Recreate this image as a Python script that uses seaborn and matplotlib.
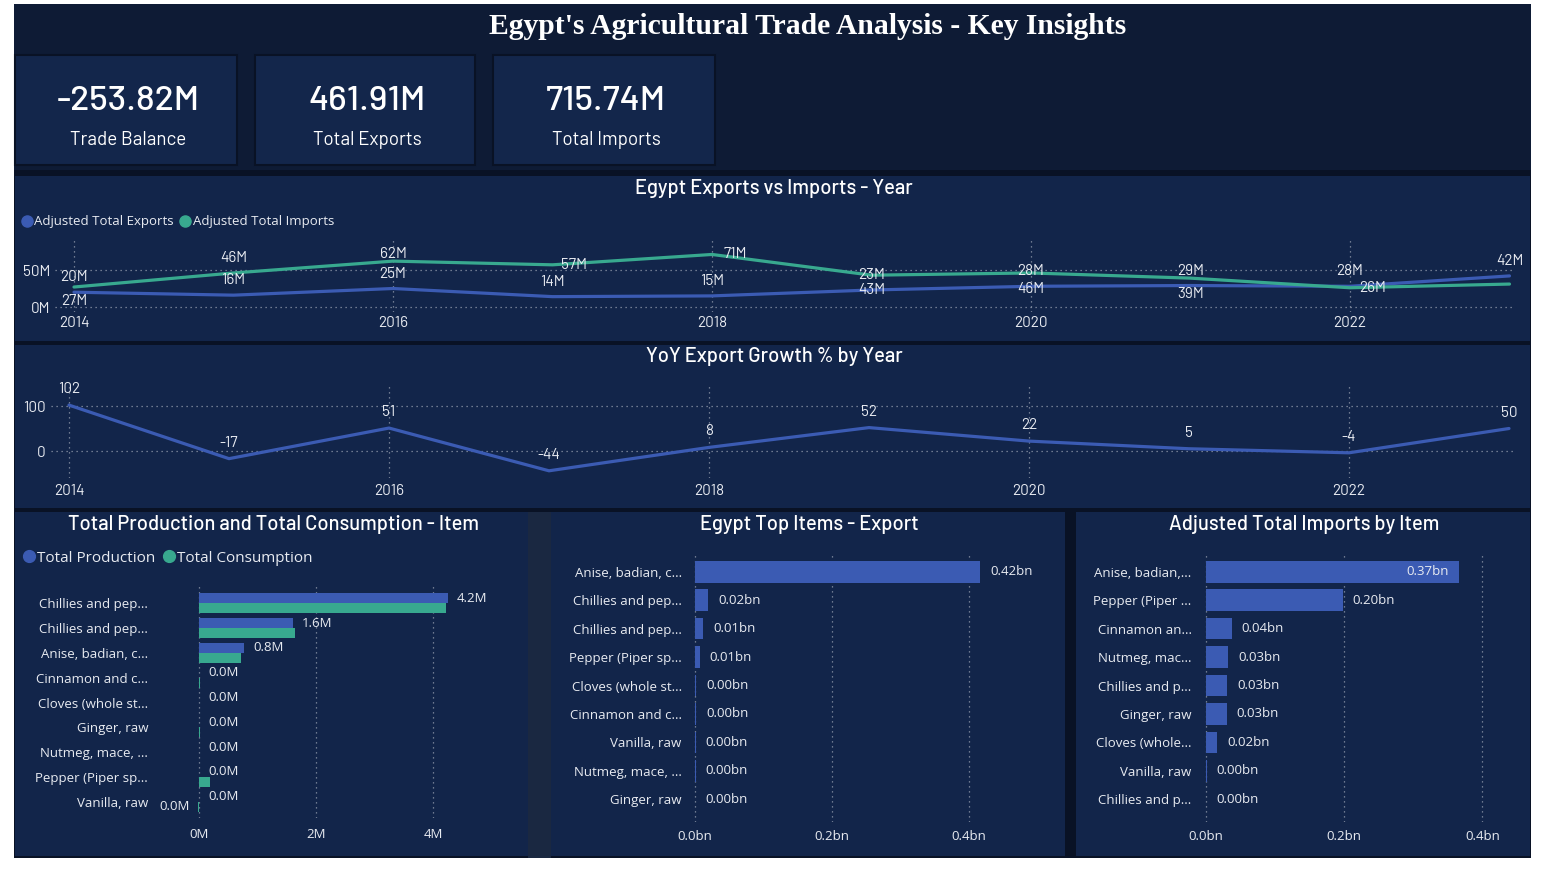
import numpy as np
import pandas as pd
import seaborn as sns
import matplotlib.pyplot as plt
from matplotlib.patches import Rectangle
from matplotlib.lines import Line2D
from matplotlib import font_manager

# ---- data ----
years = list(range(2014, 2024))
exports_m = [20, 16, 25, 14, 15, 23, 28, 29, 28, 42]
imports_m = [27, 46, 62, 57, 71, 43, 46, 39, 26, 31]
yoy_growth = [102, -17, 51, -44, 8, 52, 22, 5, -4, 50]

kpi_values = ["-253.82M", "461.91M", "715.74M"]
kpi_names = ["Trade Balance", "Total Exports", "Total Imports"]

GREEN = "Chillies and peppers, green (Capsicum spp. and Pimenta spp.)"
DRY = "Chillies and peppers, dry (Capsicum spp., Pimenta spp.), raw"
ANISE = "Anise, badian, coriander, cumin, caraway, fennel and juniper berries, raw"
CINNAMON = "Cinnamon and cinnamon-tree flowers, raw"
CLOVES = "Cloves (whole stems), raw"
GINGER = "Ginger, raw"
NUTMEG = "Nutmeg, mace, cardamoms, raw"
PEPPER = "Pepper (Piper spp.), raw"
VANILLA = "Vanilla, raw"

prod_items = [GREEN, DRY, ANISE, CINNAMON, CLOVES, GINGER, NUTMEG, PEPPER, VANILLA]
prod_labels = ["Chillies and pep...", "Chillies and pep...", "Anise, badian, c...",
               "Cinnamon and c...", "Cloves (whole st...", "Ginger, raw",
               "Nutmeg, mace, ...", "Pepper (Piper sp...", "Vanilla, raw"]
production_m = [4.25, 1.61, 0.77, 0.0, 0.0, 0.0, 0.0, 0.0, 0.0]
consumption_m = [4.23, 1.64, 0.71, 0.015, 0.005, 0.01, 0.008, 0.19, -0.01]

exp_items = [ANISE, DRY, GREEN, PEPPER, CLOVES, CINNAMON, VANILLA, NUTMEG, GINGER]
exp_labels = ["Anise, badian, c...", "Chillies and pep...", "Chillies and pep...",
              "Pepper (Piper sp...", "Cloves (whole st...", "Cinnamon and c...",
              "Vanilla, raw", "Nutmeg, mace, ...", "Ginger, raw"]
exp_bn = [0.416, 0.019, 0.012, 0.007, 0.002, 0.0015, 0.001, 0.001, 0.0005]

imp_items = [ANISE, PEPPER, CINNAMON, NUTMEG, DRY, GINGER, CLOVES, VANILLA, GREEN]
imp_labels = ["Anise, badian,...", "Pepper (Piper ...", "Cinnamon an...", "Nutmeg, mac...",
              "Chillies and p...", "Ginger, raw", "Cloves (whole...", "Vanilla, raw",
              "Chillies and p..."]
imp_bn = [0.366, 0.198, 0.037, 0.032, 0.031, 0.030, 0.016, 0.001, 0.0004]

# label nudges (pixels) for the imports line, like power bi placed them
imp_label_nudge = [(0, 14), (0, -15), (0, -7), (22, 0), (23, 0), (0, 15), (0, 16), (0, 16), (23, 0), None]

# ---- style ----
PAGE = "#0e1b35"
PANEL = "#12254a"
CARD = "#13264b"
EDGE = "#091225"
BLUE = "#3b5bb3"
TEAL = "#38a98f"
GRID = "#8c95a8"
TXT = "#e8ebf1"

sns.set_theme(style="dark")
fonts = {(f.name, f.weight) for f in font_manager.fontManager.ttflist}
avail = {n for n, w in fonts}


def pick(*cands, weight=None):
    for c in cands:
        if c in avail and (weight is None or (c, weight) in fonts):
            return c
    return "DejaVu Sans"


DIN = pick("D-DIN", "Barlow", "Roboto Condensed", "IBM Plex Sans Condensed", "Roboto")
SEGOE = pick("Selawik", "Open Sans", "Noto Sans")
SERIF = pick("Gelasio", "Noto Serif", "Liberation Serif", weight=700)
plt.rcParams["font.family"] = [SEGOE, "DejaVu Sans"]

W, H = 1541, 872
fig = plt.figure(figsize=(W / 100, H / 100), dpi=100, facecolor="white")


def box(x0, y0, x1, y1):
    return [x0 / W, 1 - y1 / H, (x1 - x0) / W, (y1 - y0) / H]


def rect(x0, y0, x1, y1, fc, ec="none", lw=0):
    fig.add_artist(Rectangle((x0 / W, 1 - y1 / H), (x1 - x0) / W, (y1 - y0) / H,
                             transform=fig.transFigure, facecolor=fc, edgecolor=ec,
                             linewidth=lw, zorder=-10))


def ftext(x, y, s, **kw):
    fig.text(x / W, 1 - y / H, s, ha=kw.pop("ha", "center"), va=kw.pop("va", "center"), **kw)


# backgrounds
rect(14, 4, 1531, 858, PAGE)
rect(14, 170, 1531, 858, EDGE)
rect(15, 176, 1530, 341, PANEL)
rect(15, 345, 1530, 508, PANEL)
rect(528, 512, 551, 858, "#1a2841")
rect(15, 512, 528, 856, PANEL)
rect(551, 512, 1065, 856, PANEL)
rect(1076, 512, 1530, 856, PANEL)

ftext(808, 26, "Egypt's Agricultural Trade Analysis - Key Insights", color="white",
      fontsize=21.3, fontweight="bold", family=SERIF)

# kpi cards
for (x0, x1), val, name in zip([(15, 237), (255, 475), (493, 715)], kpi_values, kpi_names):
    rect(x0, 55, x1, 165, CARD, EDGE, 1.5)
    ftext((x0 + x1) / 2 + 2, 101, val, color="white", fontsize=25.5, fontweight="medium", family=DIN)
    ftext((x0 + x1) / 2 + 2, 140, name, color="white", fontsize=13.5, family=DIN)

# panel titles
for x, y, s in [(774, 188, "Egypt Exports vs Imports - Year"),
                (774, 356, "YoY Export Growth % by Year"),
                (273, 524, "Total Production and Total Consumption - Item"),
                (809, 524, "Egypt Top Items - Export"),
                (1304, 524, "Adjusted Total Imports by Item")]:
    ftext(x, y, s, color="white", fontsize=14.5, fontweight="medium", family=DIN)


def style_axes(ax, grid_axis):
    ax.set_facecolor("none")
    for s in ax.spines.values():
        s.set_visible(False)
    ax.grid(True, axis=grid_axis, linestyle=(0, (1, 3)), color=GRID, linewidth=0.9)
    ax.set_axisbelow(True)
    ax.set_xlabel("")
    ax.set_ylabel("")


# ---- exports vs imports line chart ----
trade = pd.DataFrame({
    "Year": years * 2,
    "Value": exports_m + imports_m,
    "Series": ["Adjusted Total Exports"] * len(years) + ["Adjusted Total Imports"] * len(years),
})
ax1 = fig.add_axes(box(55, 240, 1515, 312))
sns.lineplot(data=trade, x="Year", y="Value", hue="Series",
             palette={"Adjusted Total Exports": BLUE, "Adjusted Total Imports": TEAL},
             linewidth=2.3, legend=False, ax=ax1)
ax1.set_xlim(2014 - 19 / 159.5, 2014 + 1441 / 159.5)
ax1.set_ylim(-5 / 0.74, 67 / 0.74)
ax1.set_xticks([2014, 2016, 2018, 2020, 2022])
ax1.set_yticks([0, 50])
ax1.set_yticklabels(["0M", "50M"])
style_axes(ax1, "both")
ax1.tick_params(length=0, colors=TXT, labelsize=11, pad=3)
for lab in ax1.get_xticklabels() + ax1.get_yticklabels():
    lab.set_family(DIN)
for y, v in zip(years, exports_m):
    ax1.annotate(f"{v}M", (y, v), xytext=(0, 15), textcoords="offset pixels",
                 ha="center", va="center", color=TXT, fontsize=11, family=DIN)
for y, v, nudge in zip(years, imports_m, imp_label_nudge):
    if nudge is None:
        continue
    ax1.annotate(f"{v}M", (y, v), xytext=(nudge[0], -nudge[1]), textcoords="offset pixels",
                 ha="center", va="center", color=TXT, fontsize=11, family=DIN)

handles = [Line2D([], [], marker="o", linestyle="", color=c, markersize=8) for c in (BLUE, TEAL)]
fig.legend(handles, ["Adjusted Total Exports", "Adjusted Total Imports"], loc="center left",
           bbox_to_anchor=(20 / W, 1 - 222 / H), ncol=2, frameon=False, fontsize=9.5,
           labelcolor=TXT, handletextpad=0.05, columnspacing=0.4, handlelength=1.0,
           borderpad=0, borderaxespad=0)

# ---- yoy growth ----
yoy = pd.DataFrame({"Year": years, "Growth": yoy_growth})
ax2 = fig.add_axes(box(51, 383, 1515, 478))
sns.lineplot(data=yoy, x="Year", y="Growth", color=BLUE, linewidth=2.3, ax=ax2)
ax2.set_xlim(2014 - 18 / 160, 2014 + 1446 / 160)
ax2.set_ylim(-27 / 0.45, 68 / 0.45)
ax2.set_xticks([2014, 2016, 2018, 2020, 2022])
ax2.set_yticks([0, 100])
style_axes(ax2, "both")
ax2.tick_params(length=0, colors=TXT, labelsize=11, pad=4)
for lab in ax2.get_xticklabels() + ax2.get_yticklabels():
    lab.set_family(DIN)
for y, v in zip(years, yoy_growth):
    ax2.annotate(f"{v}", (y, v), xytext=(0, 16), textcoords="offset pixels",
                 ha="center", va="center", color=TXT, fontsize=11, family=DIN)

# ---- production vs consumption ----
pc = pd.DataFrame({
    "Item": prod_items * 2,
    "Value": production_m + consumption_m,
    "Measure": ["Total Production"] * 9 + ["Total Consumption"] * 9,
})
ax3 = fig.add_axes(box(155, 584, 505, 818))
sns.barplot(data=pc, y="Item", x="Value", hue="Measure", order=prod_items,
            hue_order=["Total Production", "Total Consumption"],
            palette=[BLUE, TEAL], orient="h", saturation=1, width=0.8,
            linewidth=0, edgecolor="none", legend=False, ax=ax3)
ax3.set_xlim(-44 / 58.5, 306 / 58.5)
ax3.set_ylim(8 + 16.3 / 24.8, -19.3 / 24.8)
ax3.set_xticks([0, 2, 4])
ax3.set_xticklabels(["0M", "2M", "4M"])
ax3.set_yticks(range(9))
ax3.set_yticklabels(prod_labels)
style_axes(ax3, "x")
ax3.tick_params(axis="y", length=0, colors=TXT, labelsize=9.5, pad=5)
ax3.tick_params(axis="x", length=0, colors=TXT, labelsize=9.5, pad=7)
for i, (p, c) in enumerate(zip(production_m, consumption_m)):
    ax3.annotate(f"{p:.1f}M", (p, i - 0.2), xytext=(9, 0), textcoords="offset pixels",
                 ha="left", va="center", color=TXT, fontsize=9.5)
    if c < 0:
        ax3.annotate(f"{round(c, 1) + 0:.1f}M", (0, i + 0.2), xytext=(-9, 0),
                     textcoords="offset pixels", ha="right", va="center", color=TXT, fontsize=9.5)
handles = [Line2D([], [], marker="o", linestyle="", color=c, markersize=8.5) for c in (BLUE, TEAL)]
fig.legend(handles, ["Total Production", "Total Consumption"], loc="center left",
           bbox_to_anchor=(21 / W, 1 - 558 / H), ncol=2, frameon=False, fontsize=11,
           labelcolor=TXT, handletextpad=0.05, columnspacing=0.4, handlelength=1.0,
           borderpad=0, borderaxespad=0)

# ---- top export items ----
ex = pd.DataFrame({"Item": exp_items, "Value": exp_bn})
ax4 = fig.add_axes(box(690, 555, 1050, 822))
sns.barplot(data=ex, y="Item", x="Value", order=exp_items, color=BLUE, orient="h",
            saturation=1, width=0.76, linewidth=0, edgecolor="none", ax=ax4)
ax4.set_xlim(-5 / 685, 355 / 685)
ax4.set_ylim(8 + 22.7 / 28.44, -16.8 / 28.44)
ax4.set_xticks([0, 0.2, 0.4])
ax4.set_xticklabels(["0.0bn", "0.2bn", "0.4bn"])
ax4.set_yticks(range(9))
ax4.set_yticklabels(exp_labels)
style_axes(ax4, "x")
ax4.tick_params(axis="y", length=0, colors=TXT, labelsize=9.5, pad=6)
ax4.tick_params(axis="x", length=0, colors=TXT, labelsize=9.5, pad=6)
for i, v in enumerate(exp_bn):
    ax4.annotate(f"{v:.2f}bn", (v, i), xytext=(10, 0), textcoords="offset pixels",
                 ha="left", va="center", color=TXT, fontsize=9.5)

# ---- imports by item ----
im = pd.DataFrame({"Item": imp_items, "Value": imp_bn})
ax5 = fig.add_axes(box(1200, 555, 1515, 822))
sns.barplot(data=im, y="Item", x="Value", order=imp_items, color=BLUE, orient="h",
            saturation=1, width=0.76, linewidth=0, edgecolor="none", ax=ax5)
ax5.set_xlim(-6 / 691, 309 / 691)
ax5.set_ylim(8 + 22.7 / 28.44, -16.8 / 28.44)
ax5.set_xticks([0, 0.2, 0.4])
ax5.set_xticklabels(["0.0bn", "0.2bn", "0.4bn"])
ax5.set_yticks(range(9))
ax5.set_yticklabels(imp_labels)
style_axes(ax5, "x")
ax5.tick_params(axis="y", length=0, colors=TXT, labelsize=9.5, pad=6)
ax5.tick_params(axis="x", length=0, colors=TXT, labelsize=9.5, pad=6)
for i, v in enumerate(imp_bn):
    inside = v > 0.3
    ax5.annotate(f"{v:.2f}bn", (v, i), xytext=(-10 if inside else 10, 0),
                 textcoords="offset pixels", ha="right" if inside else "left",
                 va="center", color=TXT, fontsize=9.5)

fig.savefig("out.png", dpi=100, facecolor="white")
